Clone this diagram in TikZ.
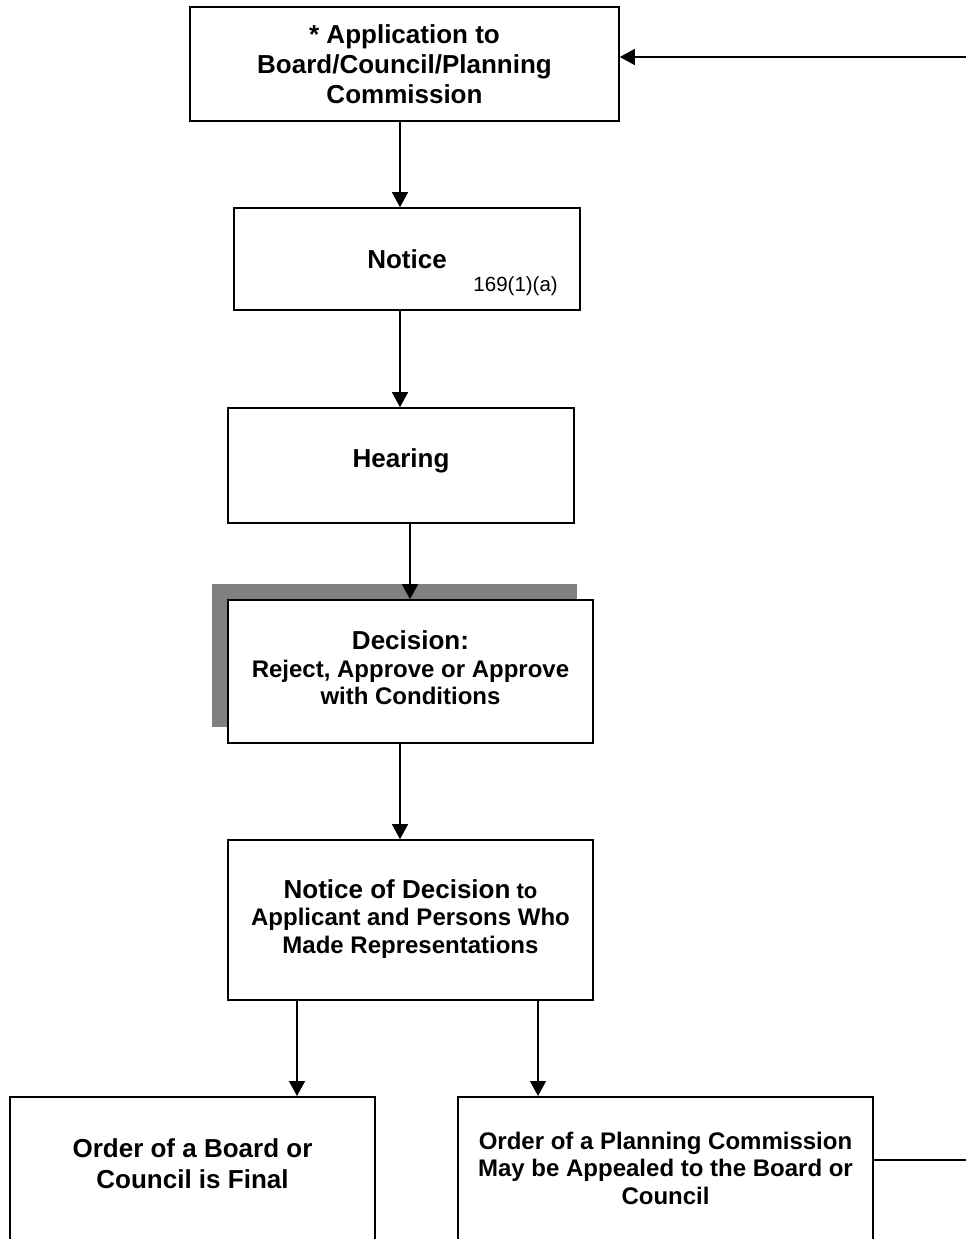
\documentclass[tikz,border=0pt]{standalone}
\usepackage{fontspec}
\setmainfont{Liberation Sans}
\usetikzlibrary{arrows.meta}
\definecolor{shadowgray}{RGB}{128,128,128}
\begin{document}
\begin{tikzpicture}[x=1pt,y=-1pt,
  box/.style={draw=black,line width=1.6pt,fill=white,inner sep=0pt,align=center},
  txt/.style={inner sep=0pt,align=center},
  big/.style={font=\bfseries\fontsize{26}{30}\selectfont},
  mid/.style={font=\bfseries\fontsize{24}{27.5}\selectfont},
  arr/.style={line width=1.4pt,-{Triangle[width=16pt,length=15pt]}}]
\clip (0,0) rectangle (966,1239);
\fill[white] (0,0) rectangle (966,1239);
% coordinates for connector columns and rows
\coordinate (cA) at (400,0);
\coordinate (cB) at (410,0);
\coordinate (cL) at (297,0);
\coordinate (cR) at (538,0);
\coordinate (cE) at (990,0);
\coordinate (yT) at (0,57);
\coordinate (yB) at (0,1160);
% boxes
\node[box,big,minimum width=429pt,minimum height=114pt] (app) at (404.5,64)
  {* Application to\\Board/Council/Planning\\Commission};
\node[box,big,minimum width=346pt,minimum height=102pt] (notice) at (407,259) {Notice};
\node[txt,font=\fontsize{20.5}{24}\selectfont,anchor=east] (sec) at (558,286) {169(1)(a)};
\node[box,big,minimum width=346pt,minimum height=115pt] (hearing) at (401,465.5) {};
\node[txt,big] (hearingtxt) at (401,461) {Hearing};
\fill[shadowgray] (212,584) rectangle (577,727);
\node[box,minimum width=365pt,minimum height=143pt] (decision) at (410.5,671.5) {};
\node[txt,mid] (decisiontxt) at (410.5,668)
  {{\fontsize{26}{28}\selectfont Decision:}\\Reject, Approve or Approve\\with Conditions};
\node[box,minimum width=365pt,minimum height=160pt] (nod) at (410.5,920) {};
\node[txt,mid] (nodtxt) at (410.5,919)
  {{\fontsize{26}{29}\selectfont Notice of Decision}{\fontsize{22}{29}\selectfont{} to}\\Applicant and Persons Who\\Made Representations};
\node[box,minimum width=365pt,minimum height=200pt,anchor=north] (final) at (192.5,1096) {};
\node[txt,font=\bfseries\fontsize{26}{31}\selectfont] (finaltxt) at (192.5,1163.5)
  {Order of a Board or\\Council is Final};
\node[box,minimum width=415pt,minimum height=200pt,anchor=north] (appeal) at (665.5,1096) {};
\node[txt,mid] (appealtxt) at (665.5,1168)
  {Order of a Planning Commission\\May be Appealed to the Board or\\Council};
% connectors
\draw[arr] (app.south -| cA) -- (notice.north -| cA);
\draw[arr] (notice.south -| cA) -- (hearing.north -| cA);
\draw[arr] (hearing.south -| cB) -- (decision.north -| cB);
\draw[arr] (decision.south -| cA) -- (nod.north -| cA);
\draw[arr] (nod.south -| cL) -- (final.north -| cL);
\draw[arr] (nod.south -| cR) -- (appeal.north -| cR);
\draw[arr] (appeal.east |- yB) -- (cE |- yB) -- (cE |- yT) -- (app.east |- yT);
\end{tikzpicture}
\end{document}
